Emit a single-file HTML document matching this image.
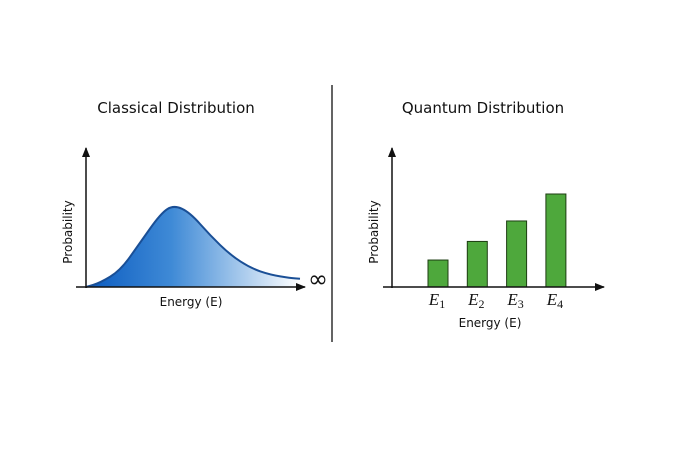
<!DOCTYPE html>
<html><head><meta charset="utf-8"><style>
html,body{margin:0;padding:0;background:#fff}
svg{display:block}
text{font-family:"DejaVu Sans","Liberation Sans",sans-serif;fill:#111}
</style></head><body>
<svg width="690" height="460" viewBox="0 0 690 460">
<defs>
<linearGradient id="g" x1="0" x2="1" y1="0" y2="0">
<stop offset="0" stop-color="#0b5bc0"/><stop offset="0.4" stop-color="#3f8ad6"/><stop offset="1" stop-color="#ffffff"/>
</linearGradient>
<marker id="ar" markerWidth="10" markerHeight="8" refX="9" refY="4" orient="auto" markerUnits="userSpaceOnUse"><path d="M0,0 L10,4 L0,8 Z" fill="#111"/></marker>
</defs>
<text x="176" y="113" font-size="15" text-anchor="middle">Classical Distribution</text>
<text x="483" y="113" font-size="15" text-anchor="middle">Quantum Distribution</text>
<line x1="332" y1="85" x2="332" y2="342" stroke="#111" stroke-width="1.3"/>
<g id="left"></g>
<line x1="86" y1="288" x2="86" y2="148" stroke="#111" stroke-width="1.5" marker-end="url(#ar)"/>
<line x1="76" y1="287" x2="305" y2="287" stroke="#111" stroke-width="1.5" marker-end="url(#ar)"/>
<text x="318" y="287" font-size="24" text-anchor="middle">∞</text>
<text x="191" y="306" font-size="12" text-anchor="middle">Energy (E)</text>
<text x="0" y="0" font-size="12" text-anchor="middle" transform="translate(72,232) rotate(-90)">Probability</text>

<g id="right"></g>
<line x1="392" y1="288" x2="392" y2="148" stroke="#111" stroke-width="1.5" marker-end="url(#ar)"/>
<line x1="383" y1="287" x2="604" y2="287" stroke="#111" stroke-width="1.5" marker-end="url(#ar)"/>
<text x="490" y="327" font-size="12" text-anchor="middle">Energy (E)</text>
<text x="0" y="0" font-size="12" text-anchor="middle" transform="translate(378,232) rotate(-90)">Probability</text>
</svg>
<script>
const energies=[0,0.65,1.6,2.5,3.5,4.1,4.85,5.8,6.75,7.7,8.6,9.55,10];
const probs=[0,0.05,0.2,0.53,0.9,1.0,0.91,0.63,0.39,0.23,0.15,0.11,0.1];
const levels=["E1","E2","E3","E4"];
const levelProbs=[0.29,0.49,0.71,1.0];
const NS="http://www.w3.org/2000/svg";
const xs=e=>86+e*21.4, ys=p=>287-p*82;
const L=document.getElementById('left');
let d="M"+xs(energies[0])+","+ys(probs[0]);
for(let i=1;i<energies.length;i++){
  const x0=xs(energies[i-1]),y0=ys(probs[i-1]),x1=xs(energies[i]),y1=ys(probs[i]);
  const xm=(x0+x1)/2; d+=` Q${x0},${y0} ${xm},${(y0+y1)/2}`;
}
d+=` L${xs(energies[energies.length-1])},${ys(probs[probs.length-1])}`;
const area=document.createElementNS(NS,'path');
area.setAttribute('d',d+` L${xs(10)},287 L86,287 Z`);
area.setAttribute('fill','url(#g)');


L.appendChild(area);
const line=document.createElementNS(NS,'path');
line.setAttribute('d',d);line.setAttribute('fill','none');line.setAttribute('stroke','#1a4f96');line.setAttribute('stroke-width','2');


L.appendChild(line);
const R=document.getElementById('right');
const bx=i=>428+i*39.3, by=p=>287-p*93;
levels.forEach((lv,i)=>{
  const r=document.createElementNS(NS,'rect');
  r.setAttribute('x',bx(i));r.setAttribute('y',by(levelProbs[i]));r.setAttribute('width',20);r.setAttribute('height',287-by(levelProbs[i]));
  r.setAttribute('fill','#4ea83c');r.setAttribute('stroke','#1d3d12');r.setAttribute('stroke-width','1');
  
  
  R.appendChild(r);
  const t=document.createElementNS(NS,'text');
  t.setAttribute('x',bx(i)+9);t.setAttribute('y',305);t.setAttribute('text-anchor','middle');
  t.setAttribute('font-size','17');t.setAttribute('font-style','italic');t.setAttribute('style','font-family:"Liberation Serif",serif');
  t.innerHTML=lv[0]+'<tspan font-size="12" font-style="normal" dy="3">'+lv.slice(1)+'</tspan>';
  
  
  R.appendChild(t);
});
</script>
</body></html>
